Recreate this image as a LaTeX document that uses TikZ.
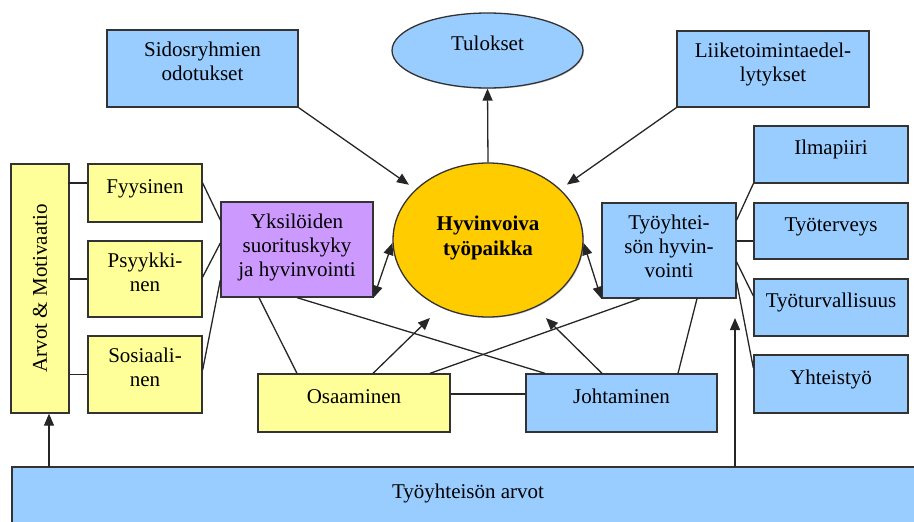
\documentclass[tikz,border=0pt]{standalone}
\usepackage{fontspec}
\setmainfont{Liberation Serif}
\newfontfamily\diagfont{Liberation Serif}
\usetikzlibrary{arrows.meta,shapes.geometric,shadows}
\definecolor{lblue}{HTML}{99CCFF}
\definecolor{lyellow}{HTML}{FFFF99}
\definecolor{lpurple}{HTML}{CC99FF}
\definecolor{gold}{HTML}{FFCC00}
\definecolor{edge}{HTML}{333333}
\tikzset{
  struts/.style 2 args={execute at begin node={\rule{0pt}{#1}}, execute at end node={\rule[-#2]{0pt}{0pt}}},
  l1/.style={struts={20pt}{20pt}},
  l2/.style={struts={20pt}{14.5pt}},
  l3/.style={struts={20pt}{9pt}},
  box/.style={draw=edge, line width=1.3pt, rectangle, inner sep=0pt, align=center,
    font=\diagfont\fontsize{21}{24}\selectfont, drop shadow={shadow xshift=1pt,shadow yshift=-1pt,opacity=0.35}},
  oval/.style={box, ellipse},
  wire/.style={line width=1.3pt, draw=black!85},
  tip/.tip={Triangle[length=12pt,width=10pt]},
  arr/.style={wire, -tip},
  arrboth/.style={wire, tip-tip},
  txt/.style={inner sep=0pt, font=\diagfont\fontsize{21}{24}\selectfont}
}
\begin{document}
\begin{tikzpicture}[x=1pt,y=-1pt]
\useasboundingbox (0,0) rectangle (914,522);
% bottom box
\node[box, fill=lblue, minimum width=908pt, minimum height=70pt] (arvo) at (466,502) {};
\node[txt] (arvotxt) at (468,493) {Työyhteisön arvot};
% left
\node[box, fill=lyellow, minimum width=58pt, minimum height=249pt] (arvot) at (40,288.5) {};
\node[txt, rotate=90] (arvotlbl) at (arvot.center) {Arvot \& Motivaatio};
\node[box, l1, fill=lyellow, minimum width=114pt, minimum height=58pt] (fyys) at (145,193) {Fyysinen};
\node[box, l2, fill=lyellow, minimum width=114pt, minimum height=76pt] (psyk) at (145,279) {Psyykki-\\nen};
\node[box, l2, fill=lyellow, minimum width=114pt, minimum height=77pt] (sosi) at (145,374.5) {Sosiaali-\\nen};
\node[box, l3, fill=lpurple, minimum width=152pt, minimum height=95pt] (yks) at (297,249.5) {Yksilöiden\\suorituskyky\\ja hyvinvointi};
% center
\node[oval, struts={26pt}{8pt}, fill=gold, minimum width=190pt, minimum height=154pt, font=\diagfont\fontsize{21}{25}\selectfont\bfseries] (hyv) at (488,240) {Hyvinvoiva\\työpaikka};
\node[oval, l1, fill=lblue, minimum width=191pt, minimum height=75pt] (tul) at (487.5,50.5) {Tulokset};
\node[box, l2, fill=lblue, minimum width=191pt, minimum height=77pt] (sid) at (202.5,68.5) {Sidosryhmien\\odotukset};
\node[box, l2, fill=lblue, minimum width=192pt, minimum height=76pt] (liik) at (773,69) {Liiketoimintaedel-\\lytykset};
\node[box, l1, fill=lyellow, minimum width=192pt, minimum height=58pt] (osa) at (354,403) {Osaaminen};
\node[box, l1, fill=lblue, minimum width=191pt, minimum height=58pt] (joh) at (621.5,403) {Johtaminen};
% right
\node[box, l3, fill=lblue, minimum width=134pt, minimum height=95pt] (tyh) at (669,250.5) {Työyhtei-\\sön hyvin-\\vointi};
\node[box, l1, fill=lblue, minimum width=154pt, minimum height=57pt] (ilma) at (831,154.5) {Ilmapiiri};
\node[box, l1, fill=lblue, minimum width=154pt, minimum height=56pt] (tter) at (831,231) {Työterveys};
\node[box, l1, fill=lblue, minimum width=154pt, minimum height=57pt] (ttur) at (831,307.5) {Työturvallisuus};
\node[box, l1, fill=lblue, minimum width=154pt, minimum height=58pt] (yht) at (831,384) {Yhteistyö};
% left connectors
\draw[wire] ([yshift=10pt]fyys.west) -- +(-19,0);
\draw[wire] (psyk.west) -- (psyk.west -| arvot.east);
\draw[wire] (sosi.west) -- (sosi.west -| arvot.east);
\coordinate (a1) at (49,467);
\draw[arr] (a1) -- (a1 |- arvot.south);
\draw[wire] ([yshift=10pt]fyys.east) -- ([yshift=29.5pt]yks.west);
\draw[wire] ([yshift=2pt]psyk.east) -- ([yshift=6.5pt]yks.west);
\draw[wire] ([yshift=4.5pt]sosi.east) -- ([yshift=-30.5pt]yks.west);
% center connectors
\draw[arrboth] (yks.south east) -- ([yshift=-3pt]hyv.west);
\draw[arrboth] ([yshift=-3pt]hyv.east) -- (tyh.south west);
\draw[arr, shorten >=8pt] (sid.south east) -- (hyv);
\draw[arr, shorten >=8pt] (liik.south west) -- (hyv);
\draw[arr] (hyv.north) -- (tul.south);
\draw[wire] ([xshift=-38pt]yks.south) -- ([xshift=-57pt]osa.north);
\draw[wire] (yks.south) -- ([xshift=-76.5pt]joh.north);
\draw[arr, shorten >=15pt] ([xshift=19pt]osa.north) -- (hyv.235);
\draw[arr, shorten >=15pt] ([xshift=-19.5pt]joh.north) -- (hyv.305);
\draw[wire] ([xshift=76pt]osa.north) -- ([xshift=-29pt]tyh.south);
\draw[wire] ([xshift=56.5pt]joh.north) -- ([xshift=28pt]tyh.south);
\draw[wire] ([yshift=9pt]osa.east) -- ([yshift=9pt]joh.west);
% right connectors
\draw[wire] ([yshift=30.5pt]tyh.east) -- (ilma.south west);
\draw[wire] ([yshift=9.5pt]tyh.east) -- ([yshift=-10pt]tter.west);
\draw[wire] ([yshift=-11.5pt]tyh.east) -- ([yshift=11.5pt]ttur.west);
\draw[wire] ([yshift=-31.5pt]tyh.east) -- ([yshift=16pt]yht.west);
\coordinate (a2) at (735,467);
\coordinate (a2t) at (735,318);
\draw[arr] (a2) -- (a2t);
\end{tikzpicture}
\end{document}
